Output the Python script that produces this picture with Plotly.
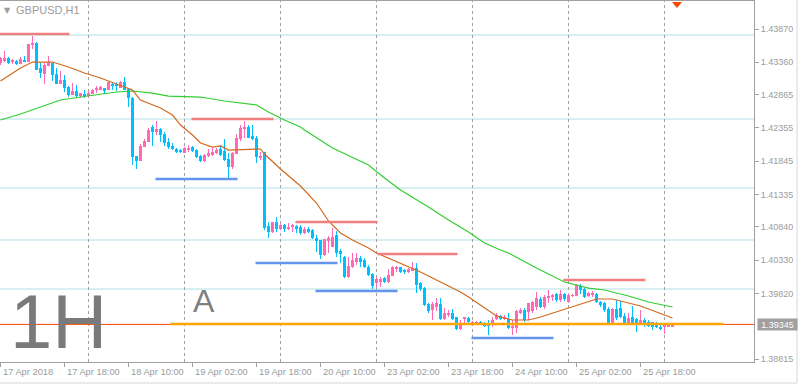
import plotly.graph_objects as go

# ---------------- data (GBPUSD, H1) ----------------
bar_idx = list(range(169))

opens = [1.43349, 1.43380, 1.43426, 1.43364, 1.43380, 1.43334, 1.43395, 1.43364, 1.43625, 1.43655,
         1.43272, 1.43180, 1.43303, 1.43349, 1.43180, 1.43027, 1.43089, 1.42981, 1.42859, 1.42920,
         1.42843, 1.42874, 1.42843, 1.42874, 1.42935, 1.42935, 1.42966, 1.42935, 1.43027, 1.43027,
         1.42966, 1.43058, 1.42951, 1.42813, 1.41924, 1.41848, 1.42062, 1.42139, 1.42369, 1.42292,
         1.42338, 1.42261, 1.42139, 1.42078, 1.42032, 1.42016, 1.41970, 1.42016, 1.42062, 1.42016,
         1.41924, 1.41848, 1.41924, 1.41940, 1.41970, 1.42032, 1.42001, 1.41878, 1.41756, 1.41955,
         1.42185, 1.42338, 1.42369, 1.42231, 1.42200, 1.41894, 1.41986, 1.40852, 1.40760, 1.40913,
         1.40806, 1.40867, 1.40806, 1.40837, 1.40852, 1.40837, 1.40745, 1.40806, 1.40791, 1.40668,
         1.40638, 1.40408, 1.40622, 1.40530, 1.40714, 1.40469, 1.40377, 1.40071, 1.40224, 1.40301,
         1.40362, 1.40331, 1.40224, 1.40117, 1.39979, 1.39994, 1.40056, 1.39994, 1.40086, 1.40193,
         1.40224, 1.40178, 1.40148, 1.40163, 1.40209, 1.39979, 1.39902, 1.39657, 1.39565, 1.39611,
         1.39657, 1.39428, 1.39489, 1.39519, 1.39458, 1.39274, 1.39428, 1.39443, 1.39366, 1.39351,
         1.39382, 1.39366, 1.39351, 1.39336, 1.39428, 1.39474, 1.39428, 1.39428, 1.39290, 1.39290,
         1.39519, 1.39565, 1.39535, 1.39550, 1.39611, 1.39734, 1.39611, 1.39749, 1.39765, 1.39811,
         1.39719, 1.39811, 1.39688, 1.39780, 1.39780, 1.39933, 1.39887, 1.39780, 1.39795, 1.39811,
         1.39688, 1.39673, 1.39581, 1.39366, 1.39581, 1.39596, 1.39474, 1.39366, 1.39458, 1.39428,
         1.39366, 1.39412, 1.39382, 1.39382, 1.39366, 1.39305, 1.39305, 1.39320, 1.39320]

highs = [1.43441, 1.43533, 1.43441, 1.43410, 1.43395, 1.43441, 1.43456, 1.43640, 1.43763, 1.43671,
         1.43349, 1.43349, 1.43456, 1.43349, 1.43272, 1.43226, 1.43165, 1.42997, 1.43043, 1.43012,
         1.42889, 1.42935, 1.42920, 1.42951, 1.42997, 1.42997, 1.42966, 1.43058, 1.43058, 1.43058,
         1.43073, 1.43135, 1.42951, 1.42828, 1.41924, 1.42108, 1.42185, 1.42353, 1.42399, 1.42461,
         1.42353, 1.42292, 1.42200, 1.42124, 1.42047, 1.42032, 1.42062, 1.42093, 1.42078, 1.42032,
         1.41940, 1.41955, 1.42032, 1.42047, 1.42047, 1.42093, 1.42185, 1.41970, 1.41986, 1.42261,
         1.42399, 1.42461, 1.42399, 1.42399, 1.42231, 1.41986, 1.41986, 1.40913, 1.40913, 1.40990,
         1.40898, 1.40883, 1.40898, 1.40883, 1.40867, 1.40867, 1.40837, 1.40837, 1.40806, 1.40714,
         1.40638, 1.40653, 1.40699, 1.40822, 1.40776, 1.40500, 1.40393, 1.40377, 1.40439, 1.40439,
         1.40393, 1.40362, 1.40255, 1.40132, 1.40071, 1.40071, 1.40071, 1.40193, 1.40239, 1.40239,
         1.40224, 1.40193, 1.40209, 1.40301, 1.40285, 1.39994, 1.39918, 1.39673, 1.39688, 1.39749,
         1.39749, 1.39596, 1.39565, 1.39581, 1.39458, 1.39412, 1.39458, 1.39458, 1.39397, 1.39397,
         1.39397, 1.39382, 1.39412, 1.39458, 1.39519, 1.39489, 1.39489, 1.39519, 1.39412, 1.39565,
         1.39596, 1.39596, 1.39673, 1.39703, 1.39841, 1.39765, 1.39795, 1.39872, 1.39811, 1.39826,
         1.39872, 1.39826, 1.39811, 1.39811, 1.39964, 1.39964, 1.39902, 1.39841, 1.39856, 1.39826,
         1.39703, 1.39688, 1.39611, 1.39596, 1.39719, 1.39703, 1.39519, 1.39519, 1.39627, 1.39443,
         1.39565, 1.39443, 1.39412, 1.39382, 1.39382, 1.39336, 1.39336, 1.39351, 1.39351]

lows = [1.43318, 1.43364, 1.43334, 1.43334, 1.43318, 1.43334, 1.43364, 1.43364, 1.43563, 1.43242,
        1.43119, 1.43027, 1.43303, 1.43073, 1.43027, 1.43027, 1.42905, 1.42828, 1.42859, 1.42813,
        1.42813, 1.42813, 1.42813, 1.42874, 1.42889, 1.42935, 1.42874, 1.42935, 1.42935, 1.42920,
        1.42966, 1.42935, 1.42675, 1.41787, 1.41725, 1.41848, 1.42062, 1.42139, 1.42078, 1.42246,
        1.42139, 1.42078, 1.42032, 1.42016, 1.41970, 1.41970, 1.41970, 1.41986, 1.41986, 1.41894,
        1.41832, 1.41832, 1.41909, 1.41924, 1.41955, 1.41924, 1.41848, 1.41587, 1.41725, 1.41955,
        1.42154, 1.42200, 1.42200, 1.42169, 1.41817, 1.41863, 1.40791, 1.40668, 1.40745, 1.40760,
        1.40791, 1.40760, 1.40791, 1.40760, 1.40745, 1.40714, 1.40730, 1.40745, 1.40653, 1.40454,
        1.40347, 1.40393, 1.40439, 1.40530, 1.40377, 1.40285, 1.40056, 1.40056, 1.40209, 1.40255,
        1.40224, 1.40209, 1.40086, 1.39887, 1.39918, 1.39918, 1.39979, 1.39979, 1.40086, 1.40148,
        1.40132, 1.40117, 1.40132, 1.40163, 1.39826, 1.39856, 1.39627, 1.39519, 1.39412, 1.39550,
        1.39412, 1.39412, 1.39458, 1.39412, 1.39259, 1.39259, 1.39366, 1.39366, 1.39336, 1.39336,
        1.39336, 1.39305, 1.39182, 1.39305, 1.39412, 1.39412, 1.39412, 1.39274, 1.39182, 1.39213,
        1.39504, 1.39382, 1.39412, 1.39519, 1.39565, 1.39596, 1.39581, 1.39673, 1.39703, 1.39688,
        1.39688, 1.39703, 1.39673, 1.39765, 1.39780, 1.39811, 1.39749, 1.39765, 1.39765, 1.39673,
        1.39611, 1.39535, 1.39351, 1.39351, 1.39412, 1.39443, 1.39336, 1.39351, 1.39336, 1.39228,
        1.39336, 1.39305, 1.39305, 1.39259, 1.39290, 1.39259, 1.39198, 1.39305, 1.39305]

closes = [1.43426, 1.43426, 1.43349, 1.43395, 1.43334, 1.43410, 1.43364, 1.43640, 1.43655, 1.43242,
          1.43196, 1.43318, 1.43364, 1.43165, 1.43027, 1.43089, 1.42966, 1.42859, 1.42920, 1.42843,
          1.42889, 1.42843, 1.42889, 1.42935, 1.42966, 1.42981, 1.42920, 1.43058, 1.42997, 1.42997,
          1.43058, 1.42935, 1.42813, 1.41909, 1.41848, 1.42078, 1.42154, 1.42323, 1.42292, 1.42338,
          1.42246, 1.42124, 1.42062, 1.42032, 1.41986, 1.41986, 1.42047, 1.42047, 1.42001, 1.41909,
          1.41848, 1.41940, 1.41970, 1.41986, 1.42016, 1.41940, 1.41863, 1.41756, 1.41970, 1.42200,
          1.42353, 1.42369, 1.42200, 1.42185, 1.41909, 1.41924, 1.40822, 1.40760, 1.40913, 1.40806,
          1.40867, 1.40806, 1.40837, 1.40867, 1.40806, 1.40745, 1.40806, 1.40760, 1.40668, 1.40622,
          1.40408, 1.40653, 1.40668, 1.40684, 1.40439, 1.40423, 1.40071, 1.40239, 1.40331, 1.40362,
          1.40301, 1.40224, 1.40102, 1.39933, 1.40040, 1.40040, 1.39994, 1.40102, 1.40224, 1.40224,
          1.40148, 1.40148, 1.40193, 1.40209, 1.39948, 1.39887, 1.39642, 1.39550, 1.39657, 1.39673,
          1.39428, 1.39519, 1.39519, 1.39428, 1.39274, 1.39351, 1.39458, 1.39382, 1.39382, 1.39382,
          1.39351, 1.39320, 1.39320, 1.39412, 1.39489, 1.39428, 1.39458, 1.39290, 1.39320, 1.39550,
          1.39565, 1.39412, 1.39673, 1.39688, 1.39749, 1.39611, 1.39765, 1.39780, 1.39795, 1.39719,
          1.39811, 1.39734, 1.39795, 1.39795, 1.39948, 1.39872, 1.39765, 1.39826, 1.39826, 1.39688,
          1.39642, 1.39565, 1.39366, 1.39581, 1.39443, 1.39458, 1.39366, 1.39443, 1.39366, 1.39366,
          1.39412, 1.39351, 1.39320, 1.39305, 1.39305, 1.39274, 1.39336, 1.39336, 1.39345]

# fast moving average (orange) sampled at bar indices
ma_fast_idx = [0, 5, 8, 13, 17, 21, 25, 30, 33, 35, 40, 43, 45, 48, 50, 53, 55, 57, 62, 65, 66,
               70, 75, 79, 82, 85, 88, 92, 94, 100, 105, 110, 115, 117, 121, 124, 128, 132, 135,
               139, 143, 147, 149, 153, 156, 160, 164, 168]
ma_fast = [1.43073, 1.43272, 1.43364, 1.43364, 1.43288, 1.43196, 1.43119, 1.42997, 1.42935, 1.42782,
           1.42660, 1.42552, 1.42399, 1.42246, 1.42124, 1.42062, 1.42078, 1.42016, 1.42032, 1.42032,
           1.41955, 1.41725, 1.41465, 1.41204, 1.40929, 1.40745, 1.40638, 1.40515, 1.40439, 1.40285,
           1.40148, 1.39994, 1.39841, 1.39765, 1.39596, 1.39474, 1.39412, 1.39412, 1.39458, 1.39535,
           1.39611, 1.39688, 1.39734, 1.39734, 1.39688, 1.39627, 1.39535, 1.39443]

# slow moving average (green)
ma_slow_idx = [0, 5, 10, 15, 20, 25, 29, 33, 38, 42, 50, 56, 61, 64, 67, 71, 75, 76, 83, 92, 96,
               100, 107, 112, 117, 121, 125, 127, 134, 141, 147, 151, 157, 162, 168]
ma_slow = [1.42476, 1.42568, 1.42675, 1.42782, 1.42828, 1.42874, 1.42905, 1.42920, 1.42889, 1.42843,
           1.42828, 1.42767, 1.42736, 1.42706, 1.42598, 1.42476, 1.42369, 1.42323, 1.42047, 1.41787,
           1.41587, 1.41404, 1.41143, 1.40944, 1.40760, 1.40592, 1.40485, 1.40439, 1.40209, 1.39994,
           1.39902, 1.39872, 1.39780, 1.39688, 1.39611]

# horizontal price levels
level_prices = [1.43778, 1.42491, 1.41434, 1.40638, 1.39887]

res_price = [1.43793, 1.42491, 1.40913, 1.40423, 1.40025]
res_start = [-1, 47.75, 73.75, 94.25, 140.75]
res_end = [17.25, 68.25, 94.25, 114.25, 161.25]

sup_price = [1.41572, 1.40285, 1.39856, 1.39137]
sup_start = [38.75, 63.75, 78.75, 117.75]
sup_end = [59.25, 84.25, 99.25, 138.25]

zone_price = 1.39351
zone_start = 42.5
zone_end = 180.75
bid_price = 1.39345

day_sep = [22, 46, 70, 94, 118, 142, 166]
tick_idx = [0, 16, 32, 48, 64, 80, 96, 112, 128, 144, 160]
tick_text = ["17 Apr 2018", "17 Apr 18:00", "18 Apr 10:00", "19 Apr 02:00", "19 Apr 18:00",
             "20 Apr 10:00", "23 Apr 02:00", "23 Apr 18:00", "24 Apr 10:00", "25 Apr 02:00",
             "25 Apr 18:00"]
price_ticks = [1.43870, 1.43360, 1.42865, 1.42355, 1.41845, 1.41335, 1.40840, 1.40330,
               1.39820, 1.38815]

# ---------------- style ----------------
UP = "#FF69B4"
DOWN = "#00BFFF"
GRAY = "#A0A0A0"
TXT = "#9C9C9C"
FONT = "Liberation Sans"

fig = go.Figure()

for p in level_prices:
    fig.add_shape(type="line", xref="paper", x0=0, x1=1, yref="y", y0=p, y1=p,
                  line=dict(color="#B0E0E6", width=1), layer="below")
for d in day_sep:
    fig.add_shape(type="line", xref="x", x0=d, x1=d, yref="paper", y0=0, y1=1,
                  line=dict(color=GRAY, width=1, dash="3px,3px"), layer="below")
fig.add_shape(type="line", xref="paper", x0=0, x1=1, yref="y", y0=bid_price, y1=bid_price,
              line=dict(color="#FF4500", width=1), layer="below")

for col, up in ((UP, True), (DOWN, False)):
    wx, wy = [], []
    for k, o, h, l, c in zip(bar_idx, opens, highs, lows, closes):
        if (c >= o) == up:
            wx += [k, k, None]
            wy += [l, h, None]
    fig.add_trace(go.Scatter(x=wx, y=wy, mode="lines", line=dict(color=col, width=1),
                             hoverinfo="skip"))

fig.add_trace(go.Bar(x=bar_idx, y=[c - o for o, c in zip(opens, closes)], base=opens,
                     width=0.75,
                     marker=dict(color=[UP if c >= o else DOWN for o, c in zip(opens, closes)],
                                 line=dict(width=0)),
                     hoverinfo="skip"))

fig.add_trace(go.Scatter(x=ma_slow_idx, y=ma_slow, mode="lines",
                         line=dict(color="#32CD32", width=1.2)))
fig.add_trace(go.Scatter(x=ma_fast_idx, y=ma_fast, mode="lines",
                         line=dict(color="#D2691E", width=1.2)))

for p, a, b in zip(res_price, res_start, res_end):
    fig.add_trace(go.Scatter(x=[a, b], y=[p, p], mode="lines",
                             line=dict(color="#F08080", width=2.5)))
for p, a, b in zip(sup_price, sup_start, sup_end):
    fig.add_trace(go.Scatter(x=[a, b], y=[p, p], mode="lines",
                             line=dict(color="#6495ED", width=2.5)))
fig.add_trace(go.Scatter(x=[zone_start, zone_end], y=[zone_price, zone_price], mode="lines",
                         line=dict(color="#FFA500", width=2.5)))

annotations = []
for k, t in zip(tick_idx, tick_text):
    annotations.append(dict(x=k, xref="x", y=0, yref="paper", yshift=-10, xshift=0,
                            xanchor="left", yanchor="middle", text=t, showarrow=False,
                            font=dict(family=FONT, size=9.3, color=TXT)))
annotations.append(dict(x=1, xref="paper", y=bid_price, yref="y", xshift=3, xanchor="left",
                        yanchor="middle", text="1.39345", showarrow=False, width=39, height=11,
                        bgcolor="#A0A0A0", borderpad=0,
                        font=dict(family=FONT, size=9, color="white")))
annotations.append(dict(x=14 / 754, xref="paper", y=1, yref="paper", yshift=-9,
                        xanchor="left", yanchor="middle", text="GBPUSD,H1", showarrow=False,
                        font=dict(family=FONT, size=11, color=TXT)))
annotations.append(dict(x=2 / 754, xref="paper", y=1, yref="paper", yshift=-9,
                        xanchor="left", yanchor="middle", text="▼", showarrow=False,
                        font=dict(family="DejaVu Sans", size=8, color=TXT)))
annotations.append(dict(x=8 / 754, xref="paper", y=(362 - 321) / 361, yref="paper",
                        xanchor="left", yanchor="middle", text="1H", showarrow=False,
                        font=dict(family=FONT, size=76, color="#7A7A7A")))
annotations.append(dict(x=204 / 754, xref="paper", y=(362 - 301) / 361, yref="paper",
                        xanchor="center", yanchor="middle", text="A", showarrow=False,
                        font=dict(family=FONT, size=32, color="#808080")))

shapes_extra = [
    dict(type="path", xref="paper", yref="paper",
         path="M %f,%f L %f,%f L %f,%f Z" % (672 / 754, 0.9972, 682 / 754, 0.9972,
                                             677 / 754, 0.9806),
         fillcolor="#FF4500", line=dict(width=0)),
    dict(type="line", xref="paper", yref="paper", x0=-0.01, x1=797 / 754,
         y0=(362 - 383) / 361, y1=(362 - 383) / 361, line=dict(color="#D8D8D8", width=1)),
    dict(type="line", xref="paper", yref="paper", x0=797 / 754, x1=797 / 754,
         y0=(362 - 383) / 361, y1=1.01, line=dict(color="#D8D8D8", width=1)),
]
for s in shapes_extra:
    fig.add_shape(**s)

fig.update_layout(
    width=799, height=384,
    margin=dict(l=0, r=45, t=1, b=22),
    paper_bgcolor="white", plot_bgcolor="white",
    showlegend=False, barmode="overlay",
    annotations=annotations,
    xaxis=dict(range=[-0.125, 188.375], showgrid=False, zeroline=False,
               showline=True, linecolor=GRAY, linewidth=1, mirror=True,
               ticks="outside", ticklen=4, tickcolor=GRAY, tickvals=tick_idx,
               showticklabels=False, fixedrange=True),
    yaxis=dict(side="right", range=[1.38769, 1.44299], showgrid=False, zeroline=False,
               showline=True, linecolor=GRAY, linewidth=1,
               ticks="outside", ticklen=4, tickcolor=GRAY,
               tickvals=price_ticks, ticktext=["%.5f" % v for v in price_ticks],
               tickfont=dict(family=FONT, size=9, color=TXT), fixedrange=True),
)

fig.write_html("out.html", config={"displayModeBar": False},
               post_script="document.body.style.margin='0px';document.body.style.overflow='hidden';")
